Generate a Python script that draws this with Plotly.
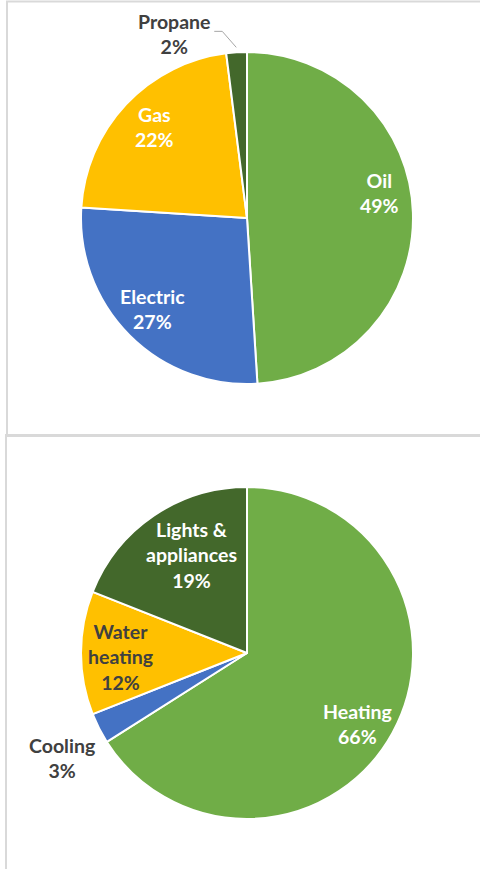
import math
import plotly.graph_objects as go

# ---------------- data ----------------
fuel_labels = ["Oil", "Electric", "Gas", "Propane"]
fuel_values = [49, 27, 22, 2]
fuel_colors = ["#70AD47", "#4472C4", "#FFC000", "#43682B"]

use_labels = ["Heating", "Cooling", "Water<br>heating", "Lights &<br>appliances"]
use_values = [66, 3, 12, 19]
use_colors = ["#70AD47", "#4472C4", "#FFC000", "#43682B"]

# ---------------- styling / layout ----------------
W, H = 480, 869
FONT = "Lato"
FS = 19.5

# label placement styles: (radial factor, angle shift in degrees, text colour)
fuel_label_style = [(0.81, -8.9, "white"), (0.79, 0.9, "white"),
                    (0.78, 1.2, "white"), (1.19, -17.8, "#404040")]
use_label_style = [(0.79, 4.0, "white"), (1.28, -2.6, "#404040"),
                   (0.76, -2.0, "#404040"), (0.68, 4.9, "white")]

pies = [
    dict(labels=fuel_labels, values=fuel_values, colors=fuel_colors,
         style=fuel_label_style, cx=247, cy=218, R=166),
    dict(labels=use_labels, values=use_values, colors=use_colors,
         style=use_label_style, cx=247, cy=653, R=166),
]


def px(x):
    return x / W


def py(y):
    return 1 - y / H


fig = go.Figure()
annotations = []
shapes = []

for p in pies:
    cx, cy, R = p["cx"], p["cy"], p["R"]
    fig.add_trace(go.Pie(
        labels=[l.replace("<br>", " ") for l in p["labels"]],
        values=p["values"],
        marker=dict(colors=p["colors"], line=dict(color="white", width=2)),
        sort=False, direction="clockwise", rotation=0,
        textinfo="none", hoverinfo="label+percent", showlegend=False,
        domain=dict(x=[px(cx - R), px(cx + R)], y=[py(cy + R), py(cy - R)]),
    ))
    total = sum(p["values"])
    cum = 0
    for lab, val, (rf, dth, col) in zip(p["labels"], p["values"], p["style"]):
        mid = (cum + val / 2) / total * 360
        cum += val
        th = math.radians(mid + dth)
        x = cx + rf * R * math.sin(th)
        y = cy - rf * R * math.cos(th)
        pct = round(val / total * 100)
        annotations.append(dict(
            x=px(x), y=py(y), xref="paper", yref="paper",
            text=f"<b>{lab}<br>{pct}%</b>", showarrow=False,
            xanchor="center", yanchor="middle", align="center",
            font=dict(family=FONT, size=FS, color=col),
        ))
        if rf > 1.1 and p is pies[0]:
            # leader line from label to the slice edge
            th0 = math.radians(mid)
            ex = cx + 1.03 * R * math.sin(th0)
            ey = cy - 1.03 * R * math.cos(th0)
            elx, ely = ex - 14, ey - 16
            sx, sy = elx - 8, ely
            shapes.append(dict(
                type="path", xref="paper", yref="paper",
                path=f"M {px(sx)} {py(sy)} L {px(elx)} {py(ely)} L {px(ex)} {py(ey)}",
                line=dict(color="#A6A6A6", width=1),
            ))

# chart area borders
BC = "#D9D9D9"
shapes += [
    dict(type="line", xref="paper", yref="paper", x0=px(6), x1=1, y0=py(1.5), y1=py(1.5),
         line=dict(color=BC, width=2)),
    dict(type="line", xref="paper", yref="paper", x0=px(7), x1=px(7), y0=py(1), y1=py(435),
         line=dict(color=BC, width=2)),
    dict(type="line", xref="paper", yref="paper", x0=px(5), x1=1, y0=py(435.5), y1=py(435.5),
         line=dict(color=BC, width=3)),
    dict(type="line", xref="paper", yref="paper", x0=px(6), x1=px(6), y0=py(436), y1=0,
         line=dict(color=BC, width=2)),
]

fig.update_layout(
    width=W, height=H, autosize=False,
    margin=dict(l=0, r=0, t=0, b=0),
    paper_bgcolor="white", plot_bgcolor="white",
    annotations=annotations, shapes=shapes,
)

fig.write_html(
    "out.html",
    config={"displayModeBar": False},
    post_script="document.body.style.margin='0';document.body.style.overflow='hidden';",
)
